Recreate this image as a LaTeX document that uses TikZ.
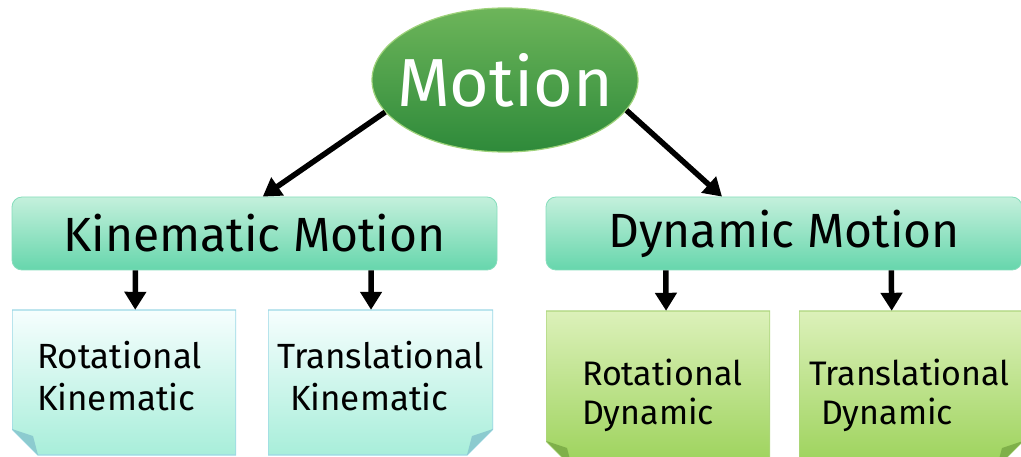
\documentclass[tikz,border=0pt]{standalone}
\usepackage{fontspec}
\setmainfont{Fira Sans}
\usetikzlibrary{shapes.geometric,arrows.meta,calc}

\definecolor{ellTop}{HTML}{6DB55A}
\definecolor{ellMid}{HTML}{3F9B45}
\definecolor{ellBot}{HTML}{2E8A3A}
\definecolor{ellEdge}{HTML}{9ED27A}
\definecolor{mintTop}{HTML}{C4F0DC}
\definecolor{mintBot}{HTML}{66D6AC}
\definecolor{mintEdge}{HTML}{86DDBC}
\definecolor{cyanTop}{HTML}{F6FEFE}
\definecolor{cyanBot}{HTML}{A8EEDA}
\definecolor{cyanEdge}{HTML}{9CD8E6}
\definecolor{cyanFlap}{HTML}{8CCBCF}
\definecolor{limeTop}{HTML}{DCF1BA}
\definecolor{limeBot}{HTML}{9CD25A}
\definecolor{limeEdge}{HTML}{AED67E}
\definecolor{limeFlap}{HTML}{7FB04A}

\tikzset{
  arr/.style={line width=5.5pt, -{Triangle[width=21pt,length=18pt]}},
  topnode/.style={ellipse, minimum width=266pt, minimum height=144pt, inner sep=0pt,
    draw=ellEdge, line width=1.2pt, top color=ellTop, middle color=ellMid, bottom color=ellBot,
    text=white, font=\fontsize{68}{72}\selectfont},
  midbox/.style={rectangle, rounded corners=10pt, minimum height=73pt, inner sep=0pt,
    draw=mintEdge, line width=0.8pt, top color=mintTop, bottom color=mintBot,
    font=\fontsize{48}{54}\selectfont},
  lowbox/.style={rectangle, inner sep=0pt, minimum height=145pt},
  kintext/.style={font=\fontsize{35}{42}\selectfont, align=left, inner sep=0pt},
  dyntext/.style={font=\fontsize{34}{39}\selectfont, align=left, inner sep=0pt},
  % folded sticky-note bodies, drawn inside the node frame
  foldleft/.style n args={4}{path picture={
    \coordinate (sw) at (path picture bounding box.south west);
    \coordinate (ne) at (path picture bounding box.north east);
    \shade[top color=#1, bottom color=#2, draw=#3, line width=1.4pt]
      ($(sw)+(0pt,26pt)$) |- (ne) |- ($(sw)+(26pt,0pt)$) -- cycle;
    \fill[#4] ($(sw)+(0pt,26pt)$) -- ($(sw)+(21pt,19pt)$) -- ($(sw)+(26pt,0pt)$) -- cycle;
  }},
  foldright/.style n args={4}{path picture={
    \coordinate (nw) at (path picture bounding box.north west);
    \coordinate (se) at (path picture bounding box.south east);
    \shade[top color=#1, bottom color=#2, draw=#3, line width=1.4pt]
      ($(se)+(0pt,26pt)$) |- (nw) |- ($(se)+(-26pt,0pt)$) -- cycle;
    \fill[#4] ($(se)+(0pt,26pt)$) -- ($(se)+(-21pt,19pt)$) -- ($(se)+(-26pt,0pt)$) -- cycle;
  }},
}

\begin{document}
\begin{tikzpicture}[x=1pt, y=-1pt]
\useasboundingbox (0,0) rectangle (1021,457);
\clip (0,0) rectangle (1021,457);

% root
\node[topnode] (motion) at (505,80) {\makebox[0pt]{Motion}};

% second level
\node[midbox, minimum width=485pt] (kin) at (254.5,233.5) {Kinematic Motion};
\node[midbox, minimum width=476pt] (dyn) at (784,233.5) {Dynamic Motion};

% leaves
\node[lowbox, minimum width=224pt, foldleft={cyanTop}{cyanBot}{cyanEdge}{cyanFlap},
  label={[kintext, anchor=north west, xshift=25pt, yshift=-31pt]north west:{Rotational\\Kinematic}}]
  (rk) at (124,382.5) {};
\node[lowbox, minimum width=225pt, foldright={cyanTop}{cyanBot}{cyanEdge}{cyanFlap},
  label={[kintext, anchor=north west, xshift=9pt, yshift=-31pt]north west:{Translational\\\hspace*{13pt}Kinematic}}]
  (tk) at (380.5,382.5) {};
\node[lowbox, minimum width=224pt, minimum height=156pt, foldleft={limeTop}{limeBot}{limeEdge}{limeFlap},
  label={[dyntext, anchor=north west, xshift=36pt, yshift=-48pt]north west:{Rotational\\Dynamic}}]
  (rd) at (658,389) {};
\node[lowbox, minimum width=224pt, minimum height=156pt, foldright={limeTop}{limeBot}{limeEdge}{limeFlap},
  label={[dyntext, anchor=north west, xshift=10pt, yshift=-48pt]north west:{Translational\\\hspace*{12pt}Dynamic}}]
  (td) at (911,389) {};

% connectors
\draw[arr] (motion.195) -- ($(kin.north west)!0.517!(kin.north east)$);
\draw[arr] (motion.346) -- ($(dyn.north west)!0.37!(dyn.north east)$);
\draw[arr] ($(kin.south west)!0.255!(kin.south east)$) -- ($(rk.north west)!0.55!(rk.north east)$);
\draw[arr] ($(kin.south west)!0.74!(kin.south east)$) -- ($(tk.north west)!0.458!(tk.north east)$);
\draw[arr] ($(dyn.south west)!0.252!(dyn.south east)$) -- ($(rd.north west)!0.536!(rd.north east)$);
\draw[arr] ($(dyn.south west)!0.725!(dyn.south east)$) -- ($(td.north west)!0.414!(td.north east)$);
\end{tikzpicture}
\end{document}
